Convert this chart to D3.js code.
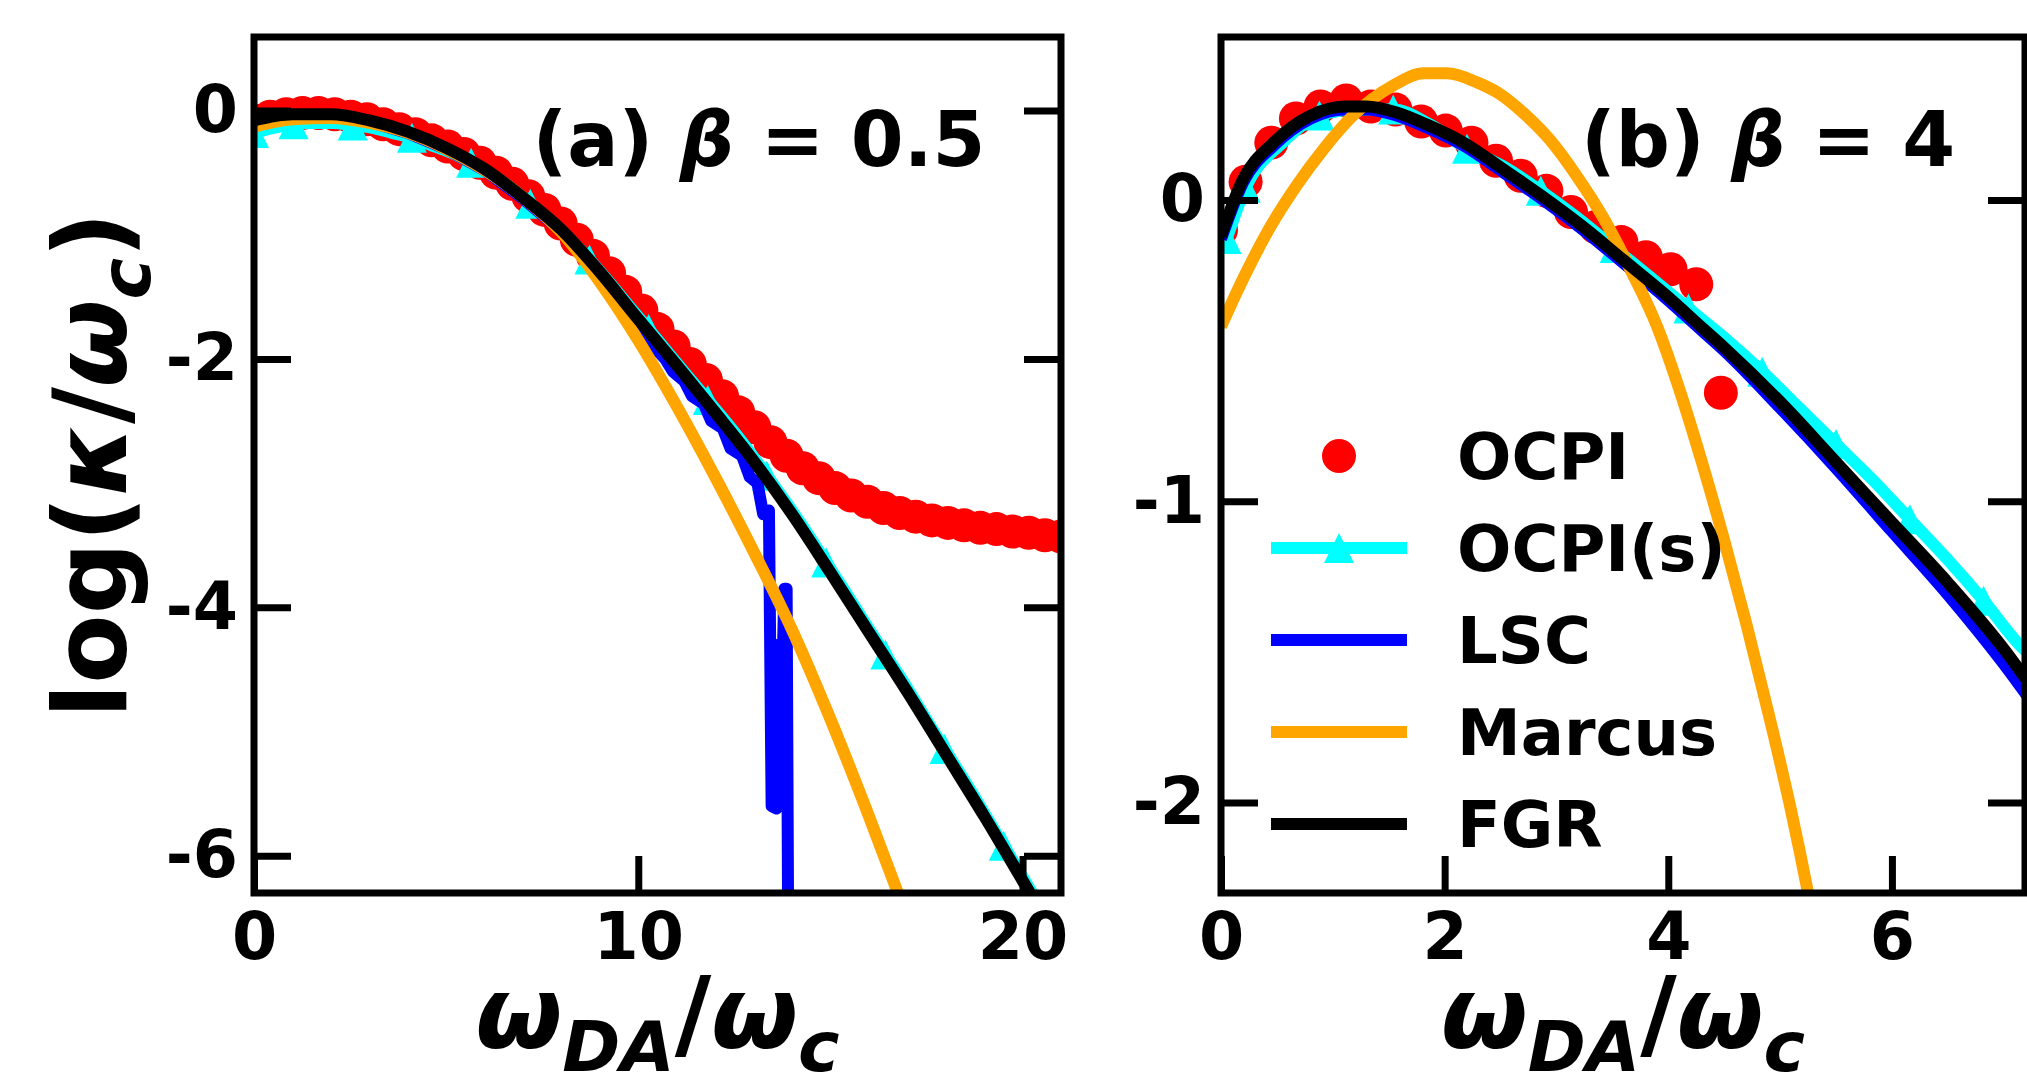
<!DOCTYPE html>
<html><head><meta charset="utf-8">
<script src="https://cdn.jsdelivr.net/npm/d3@7"></script>
<style>
html,body{margin:0;padding:0;background:#fff;}
svg{display:block;}
text{font-family:"DejaVu Sans",sans-serif;font-weight:bold;}
</style></head><body>
<svg id="chart" width="2027" height="1089"></svg>
<script>
// ================= Panel (a): beta = 0.5 =================
const ocpiA_x = [0,0.42,0.84,1.26,1.68,2.1,2.52,2.94,3.36,3.78,4.2,4.62,5.04,5.46,5.88,6.3,6.72,7.14,7.56,7.98,8.4,8.82,9.24,9.66,10.08,10.5,10.92,11.34,11.76,12.18,12.6,13.02,13.44,13.86,14.28,14.7,15.12,15.54,15.96,16.38,16.8,17.22,17.64,18.06,18.48,18.9,19.32,19.74,20.16,20.58,21];
const ocpiA_y = [-0.08,-0.05,-0.03,-0.02,-0.02,-0.03,-0.05,-0.07,-0.11,-0.15,-0.19,-0.24,-0.29,-0.35,-0.42,-0.50,-0.59,-0.69,-0.80,-0.91,-1.04,-1.17,-1.31,-1.46,-1.61,-1.76,-1.90,-2.04,-2.17,-2.30,-2.43,-2.55,-2.67,-2.78,-2.88,-2.96,-3.04,-3.10,-3.15,-3.20,-3.24,-3.27,-3.30,-3.32,-3.34,-3.36,-3.37,-3.39,-3.40,-3.42,-3.43];

const ocpisA_x = [0,0.51,1.03,1.54,2.05,2.57,3.08,3.59,4.11,4.62,5.13,5.65,6.16,6.67,7.19,7.7,8.21,8.73,9.24,9.75,10.27,10.78,11.29,11.81,12.32,12.83,13.35,13.86,14.37,14.89,15.4,15.91,16.43,16.94,17.45,17.97,18.48,18.99,19.51,20.02,20.53,21.05];
const ocpisA_y = [-0.18,-0.14,-0.11,-0.10,-0.10,-0.12,-0.14,-0.18,-0.22,-0.28,-0.34,-0.42,-0.51,-0.62,-0.75,-0.88,-1.03,-1.20,-1.38,-1.57,-1.76,-1.95,-2.14,-2.33,-2.52,-2.72,-2.94,-3.16,-3.39,-3.64,-3.88,-4.13,-4.38,-4.62,-4.88,-5.14,-5.39,-5.65,-5.92,-6.18,-6.45,-6.72];

const lscA_x = [0,1,2,3,4,5,6,7,8,9,10,10.4,10.7,10.9,11.2,11.4,11.7,11.9,12.2,12.4,12.7,12.9,13.1,13.25,13.4,13.47,13.6,13.66,13.72,13.8,13.86,13.9];
const lscA_y = [-0.09,-0.04,-0.04,-0.09,-0.18,-0.31,-0.48,-0.71,-0.97,-1.32,-1.72,-1.90,-2.00,-2.10,-2.18,-2.30,-2.36,-2.50,-2.56,-2.72,-2.78,-2.95,-3.00,-3.25,-3.22,-5.60,-5.62,-4.30,-5.00,-3.85,-3.85,-6.60];

const marcusA_x = [0,1,2,3,4,5,6,7,8,9,10,11,12,13,14,15,16,17];
const marcusA_y = [-0.13,-0.07,-0.06,-0.10,-0.18,-0.31,-0.48,-0.70,-0.98,-1.38,-1.85,-2.38,-2.95,-3.55,-4.18,-4.90,-5.68,-6.50];

const fgrA_x = [0,1,2,3,4,5,6,7,8,9,10,11,12,13,14,15,16,17,18,19,20,20.5];
const fgrA_y = [-0.08,-0.03,-0.03,-0.08,-0.17,-0.30,-0.47,-0.70,-0.96,-1.30,-1.68,-2.05,-2.43,-2.82,-3.25,-3.72,-4.20,-4.68,-5.18,-5.68,-6.20,-6.46];

// ================= Panel (b): beta = 4 =================
const ocpiB_x = [0,0.22,0.45,0.67,0.89,1.12,1.34,1.56,1.79,2.01,2.24,2.46,2.68,2.91,3.13,3.35,3.58,3.80,4.02,4.25,4.47];
const ocpiB_y = [-0.10,0.06,0.19,0.27,0.31,0.33,0.31,0.30,0.26,0.23,0.19,0.13,0.08,0.03,-0.04,-0.09,-0.14,-0.19,-0.23,-0.28,-0.64];

const ocpisB_x = [0.05,0.22,0.55,0.88,1.21,1.54,1.87,2.2,2.53,2.86,3.19,3.52,3.85,4.18,4.51,4.84,5.17,5.5,5.83,6.16,6.49,6.82,7.15,7.3];
const ocpisB_y = [-0.13,0.04,0.19,0.28,0.30,0.30,0.25,0.17,0.11,0.03,-0.06,-0.16,-0.26,-0.36,-0.46,-0.57,-0.69,-0.81,-0.93,-1.06,-1.19,-1.33,-1.48,-1.53];

const lscB_x = [0,0.2,0.47,0.8,1.12,1.3,1.57,1.84,2.17,2.53,2.88,3.24,3.6,3.96,4.32,4.5,5,5.5,6,6.5,7,7.2,7.3];
const lscB_y = [-0.13,0.06,0.18,0.27,0.30,0.30,0.28,0.24,0.18,0.09,0.0,-0.10,-0.21,-0.32,-0.44,-0.50,-0.69,-0.89,-1.10,-1.31,-1.54,-1.64,-1.69];

const marcusB_x = [0,0.2,0.44,0.68,0.92,1.18,1.54,1.81,2.02,2.29,2.5,2.7,2.94,3.18,3.42,3.66,3.9,4.1,4.3,4.5,4.7,4.9,5.1,5.25,5.4];
const marcusB_y = [-0.42,-0.26,-0.09,0.05,0.17,0.28,0.38,0.42,0.42,0.39,0.35,0.29,0.20,0.08,-0.06,-0.23,-0.42,-0.63,-0.87,-1.13,-1.41,-1.71,-2.03,-2.30,-2.60];

const fgrB_x = [0,0.2,0.47,0.8,1.12,1.3,1.57,1.84,2.17,2.53,2.88,3.24,3.6,3.96,4.32,4.5,5,5.5,6,6.5,7,7.2,7.3];
const fgrB_y = [-0.12,0.07,0.19,0.28,0.31,0.31,0.29,0.25,0.19,0.10,0.01,-0.09,-0.20,-0.31,-0.43,-0.49,-0.67,-0.87,-1.07,-1.27,-1.49,-1.59,-1.64];

// ticks & labels
const xTicksA = [0,10,20], yTicksA = [0,-2,-4,-6];
const xTicksB = [0,2,4,6], yTicksB = [0,-1,-2];
const legendLabels = ["OCPI","OCPI(s)","LSC","Marcus","FGR"];
const colors = {ocpi:"#ff0000", ocpis:"#00ffff", lsc:"#0000ff", marcus:"#ffa500", fgr:"#000000"};

const svg = d3.select("#chart");
const LW = 12;
const TRI = "M0,-15L15,15L-15,15Z";

function zip(xs, ys){ return xs.map((x,i)=>[x, ys[i]]); }

const panels = [
  {id:"a", left:254, right:1061, top:37, bottom:893, xd:[0,21], yd:[-6.3,0.592],
   xt:xTicksA, yt:yTicksA,
   ocpi:zip(ocpiA_x,ocpiA_y), ocpis:zip(ocpisA_x,ocpisA_y), lsc:zip(lscA_x,lscA_y),
   marcus:zip(marcusA_x,marcusA_y), fgr:zip(fgrA_x,fgrA_y),
   markEvery:(i)=> i===0 || i%3===2,
   title:["(a) ","β"," = 0.5"], titleX:759},
  {id:"b", left:1221, right:2025, top:37, bottom:893, xd:[0,7.19], yd:[-2.3,0.5406],
   xt:xTicksB, yt:yTicksB,
   ocpi:zip(ocpiB_x,ocpiB_y), ocpis:zip(ocpisB_x,ocpisB_y), lsc:zip(lscB_x,lscB_y),
   marcus:zip(marcusB_x,marcusB_y), fgr:zip(fgrB_x,fgrB_y),
   markEvery:(i)=> i<=1 || i%2===1,
   title:["(b) ","β"," = 4"], titleX:1768}
];

panels.forEach(p=>{
  const x = d3.scaleLinear().domain(p.xd).range([p.left,p.right]);
  const y = d3.scaleLinear().domain(p.yd).range([p.bottom,p.top]);
  const g = svg.append("g");
  g.append("clipPath").attr("id","clip"+p.id).append("rect")
    .attr("x",p.left).attr("y",p.top).attr("width",p.right-p.left).attr("height",p.bottom-p.top);
  const plot = g.append("g").attr("clip-path","url(#clip"+p.id+")");
  const lineLin = d3.line().x(d=>x(d[0])).y(d=>y(d[1]));
  const lineSm = d3.line().x(d=>x(d[0])).y(d=>y(d[1])).curve(d3.curveMonotoneX);

  // OCPI circles
  plot.append("g").selectAll("circle").data(p.ocpi).join("circle")
    .attr("cx",d=>x(d[0])).attr("cy",d=>y(d[1])).attr("r",17).attr("fill",colors.ocpi);
  // OCPI(s) line + triangles
  plot.append("path").datum(p.ocpis).attr("d",lineSm).attr("fill","none")
    .attr("stroke",colors.ocpis).attr("stroke-width",LW).attr("stroke-linejoin","round");
  plot.append("g").selectAll("path").data(p.ocpis.filter((d,i)=>p.markEvery(i))).join("path")
    .attr("d",TRI).attr("transform",d=>`translate(${x(d[0])},${y(d[1])})`).attr("fill",colors.ocpis);
  // LSC
  plot.append("path").datum(p.lsc).attr("d", p.id==="a"?lineLin:lineSm).attr("fill","none")
    .attr("stroke",colors.lsc).attr("stroke-width",LW).attr("stroke-linejoin","round");
  // Marcus
  plot.append("path").datum(p.marcus).attr("d",lineSm).attr("fill","none")
    .attr("stroke",colors.marcus).attr("stroke-width",LW);
  // FGR
  plot.append("path").datum(p.fgr).attr("d",lineSm).attr("fill","none")
    .attr("stroke",colors.fgr).attr("stroke-width",LW);

  // axes (ticks inward)
  const TS = 37;
  const fmt = d=>String(d);
  const ax = [
    {a:d3.axisLeft(y).tickValues(p.yt).tickSize(-TS).tickPadding(16).tickFormat(fmt), t:`translate(${p.left},0)`},
    {a:d3.axisRight(y).tickValues(p.yt).tickSize(-TS).tickFormat(""), t:`translate(${p.right},0)`},
    {a:d3.axisBottom(x).tickValues(p.xt).tickSize(-TS).tickPadding(20).tickFormat(fmt), t:`translate(0,${p.bottom})`}
  ];
  ax.forEach(o=>{
    const ag = g.append("g").attr("transform",o.t).call(o.a);
    ag.select(".domain").remove();
    ag.selectAll("line").attr("stroke","#000").attr("stroke-width",7);
    ag.selectAll("text").attr("font-size",65).attr("font-family","DejaVu Sans").attr("font-weight","bold").attr("fill","#000");
  });
  // frame
  g.append("rect").attr("x",p.left).attr("y",p.top).attr("width",p.right-p.left).attr("height",p.bottom-p.top)
    .attr("fill","none").attr("stroke","#000").attr("stroke-width",7);

  // title
  const t = g.append("text").attr("x",p.titleX).attr("y",166).attr("text-anchor","middle").attr("font-size",76);
  t.append("tspan").text(p.title[0]);
  t.append("tspan").attr("font-style","italic").text(p.title[1]);
  t.append("tspan").text(p.title[2]);

  // x label
  const cx = (p.left+p.right)/2;
  const xl = g.append("text").attr("x",cx).attr("y",1048).attr("text-anchor","middle").attr("font-size",100);
  xl.append("tspan").attr("font-style","italic").text("ω");
  xl.append("tspan").attr("font-style","italic").attr("font-size",70).attr("dy",23).text("DA");
  xl.append("tspan").attr("dy",-23).text("/");
  xl.append("tspan").attr("font-style","italic").text("ω");
  xl.append("tspan").attr("font-style","italic").attr("font-size",70).attr("dy",23).text("c");

  // legend in panel b
  if(p.id==="b"){
    const lg = g.append("g");
    const lx0 = 1271, lx1 = 1407, mx = 1339, tx = 1457;
    legendLabels.forEach((lab,i)=>{
      const yy = 456 + 92*i;
      if(i===0){
        lg.append("circle").attr("cx",mx).attr("cy",yy).attr("r",17).attr("fill",colors.ocpi);
      } else {
        const c = [null,colors.ocpis,colors.lsc,colors.marcus,colors.fgr][i];
        lg.append("line").attr("x1",lx0).attr("x2",lx1).attr("y1",yy).attr("y2",yy)
          .attr("stroke",c).attr("stroke-width",LW);
        if(i===1) lg.append("path").attr("d",TRI).attr("transform",`translate(${mx},${yy})`).attr("fill",colors.ocpis);
      }
      lg.append("text").attr("x",tx).attr("y",yy+23).attr("font-size",64).text(lab);
    });
  }
});

// y label
const yl = svg.append("text").attr("transform","translate(126,465) rotate(-90)")
  .attr("text-anchor","middle").attr("font-size",101);
yl.append("tspan").text("log(");
yl.append("tspan").attr("font-style","italic").text("κ");
yl.append("tspan").text("/");
yl.append("tspan").attr("font-style","italic").text("ω");
yl.append("tspan").attr("font-style","italic").attr("font-size",70).attr("dy",24).text("c");
yl.append("tspan").attr("dy",-24).text(")");
</script>
</body></html>
